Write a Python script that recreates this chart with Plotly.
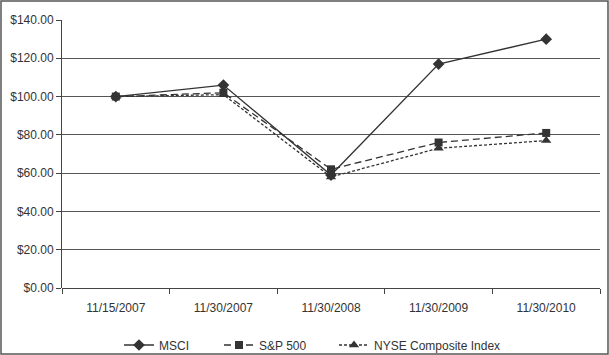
import plotly.graph_objects as go

categories = ["11/15/2007", "11/30/2007", "11/30/2008", "11/30/2009", "11/30/2010"]
msci = [100, 106, 59, 117, 130]
sp500 = [100, 102, 62, 76, 81]
nyse = [100, 101, 58, 73, 77]
y_ticks = [0, 20, 40, 60, 80, 100, 120, 140]
y_labels = ["$%.2f" % v for v in y_ticks]

c = "#333333"
fig = go.Figure()
fig.add_trace(go.Scatter(x=categories, y=msci, name="MSCI", mode="lines+markers",
                         line=dict(color=c, width=1.3), legend="legend",
                         marker=dict(symbol="diamond", size=9, color=c)))
fig.add_trace(go.Scatter(x=categories, y=nyse, name="NYSE Composite Index", mode="lines+markers",
                         line=dict(color=c, width=1.3, dash="3px,2px"), legend="legend3",
                         marker=dict(symbol="triangle-up", size=9, color=c)))
fig.add_trace(go.Scatter(x=categories, y=sp500, name="S&P 500", mode="lines+markers",
                         line=dict(color=c, width=1.3, dash="7px,4px"), legend="legend2",
                         marker=dict(symbol="square", size=8, color=c)))

W, H = 609, 355
ml, mr, mt, mb = 62, 9, 20, 67
pw, ph = W - ml - mr, H - mt - mb
leg_y = (mt + ph - 345) / ph


def leg(px):
    return dict(orientation="h", x=(px - ml) / pw, xanchor="left", y=leg_y, yanchor="middle",
                font=dict(size=12), bgcolor="rgba(0,0,0,0)")


fig.update_layout(
    width=W, height=H,
    margin=dict(l=ml, r=mr, t=mt, b=mb, autoexpand=False),
    paper_bgcolor="white", plot_bgcolor="white",
    font=dict(family="Liberation Sans, Arial, sans-serif", size=12, color="#333"),
    showlegend=True,
    legend=leg(119), legend2=leg(219), legend3=leg(334),
    xaxis=dict(type="category", range=[-0.5, 4.5], showgrid=False, showline=False,
               ticks="outside", tickson="boundaries", ticklen=5, tickcolor="#444",
               zeroline=False, automargin=False, ticklabelstandoff=11),
    yaxis=dict(range=[0, 140], tickvals=y_ticks, ticktext=y_labels,
               showgrid=True, gridcolor="#555", gridwidth=1,
               showline=True, linecolor="#444", linewidth=1,
               ticks="outside", ticklen=5, tickcolor="#444", automargin=False,
               zeroline=True, zerolinecolor="#444", zerolinewidth=1),
    shapes=[dict(type="rect", xref="paper", yref="paper",
                 x0=(1 - ml) / pw, x1=(W - 1 - ml) / pw,
                 y0=-(H - 1 - mt - ph) / ph, y1=(ph + mt - 1) / ph,
                 line=dict(color="#555", width=1.5), layer="above")],
)
fig.write_html("out.html", config={"displayModeBar": False},
               post_script="document.body.style.margin='0';document.body.style.overflow='hidden';")
